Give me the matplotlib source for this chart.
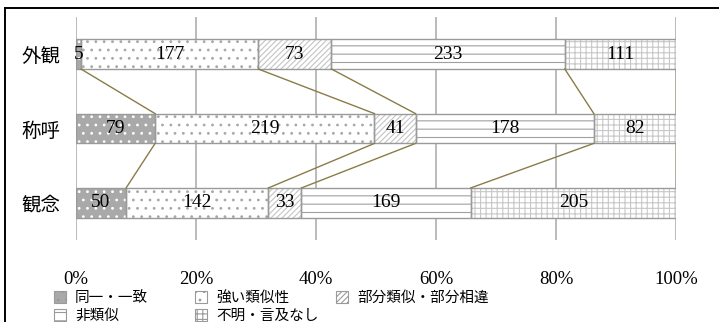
import numpy as np
import matplotlib
matplotlib.use("Agg")
import matplotlib.pyplot as plt
from matplotlib.patches import Patch
from matplotlib.lines import Line2D

# data
categories = ["外観", "称呼", "観念"]
series_names = ["同一・一致", "強い類似性", "部分類似・部分相違", "非類似", "不明・言及なし"]
same = [5, 79, 50]
strong = [177, 219, 142]
partial = [73, 41, 33]
dissimilar = [233, 178, 169]
unknown = [111, 82, 205]
tick_labels = ["0%", "20%", "40%", "60%", "80%", "100%"]

# styles: face, hatch colour, hatch
styles = [
    ("#a9a9a9", "#ffffff", ".."),
    ("#ffffff", "#a8a8a8", ".."),
    ("#ffffff", "#c4c4c4", "//////"),
    ("#ffffff", "#a0a0a0", "--"),
    ("#ffffff", "#c8c8c8", "+++"),
]

plt.rcParams["hatch.linewidth"] = 0.8
jp = ["Noto Sans CJK JP", "DejaVu Sans"]
serif = "Liberation Serif"

values = np.array([same, strong, partial, dissimilar, unknown], dtype=float)
totals = values.sum(axis=0)
pct = values / totals * 100
cum = np.cumsum(pct, axis=0)
y = np.arange(len(categories))

fig = plt.figure(figsize=(7.19, 3.22), dpi=100)
ax = fig.add_axes([76 / 719, 1 - 240 / 322, 600 / 719, 223 / 322])

for x in range(0, 101, 20):
    ax.axvline(x, color="#b5b5b5", lw=1.3, zorder=0)

bh = 0.40
for i in range(len(series_names)):
    left = cum[i] - pct[i]
    face, hc, hatch = styles[i]
    ax.barh(y, pct[i], left=left, height=bh, color=face, edgecolor=hc,
            hatch=hatch, linewidth=0, zorder=2)
    ax.barh(y, pct[i], left=left, height=bh, fill=False,
            edgecolor="#9a9a9a", linewidth=1.0, zorder=3)
    for j in range(len(categories)):
        ax.text(left[j] + pct[i][j] / 2, y[j], f"{int(values[i][j])}",
                ha="center", va="center", fontsize=14, family=serif, zorder=5)

# series lines
for i in range(len(series_names)):
    for j in range(len(categories) - 1):
        ax.plot([cum[i][j], cum[i][j + 1]], [y[j] + bh / 2, y[j + 1] - bh / 2],
                color="#8a7c48", lw=1.0, zorder=4)

ax.set_xlim(0, 100)
ax.set_ylim(2.5, -0.5)
ax.set_xticks(range(0, 101, 20))
ax.set_xticklabels(tick_labels, family=serif, fontsize=13.5)
ax.set_yticks(y)
ax.set_yticklabels(categories, family=jp, fontsize=14)
ax.tick_params(length=0)
ax.tick_params(axis="y", pad=11)
ax.tick_params(axis="x", pad=22)
for s in ax.spines.values():
    s.set_visible(False)

handles = []
for i, name in enumerate(series_names):
    face, hc, hatch = styles[i]
    handles.append(Patch(facecolor=face, edgecolor="#9a9a9a", hatch=hatch,
                         linewidth=0.8, label=name))

# legend laid out as three fixed-width columns
columns = [([0, 3], 54), ([1, 4], 195), ([2], 336)]
for idx, xpx in columns:
    lg = fig.legend([handles[k] for k in idx], [series_names[k] for k in idx],
                    loc="upper left", bbox_to_anchor=(xpx / 719, 1 - 291 / 322),
                    frameon=False, prop={"family": jp, "size": 10.5},
                    handlelength=0.85, handleheight=0.9, handletextpad=0.6,
                    labelspacing=0.25, borderaxespad=0, borderpad=0)

# outer frame (left and top only visible)
fig.add_artist(Line2D([5 / 719, 5 / 719], [0, 1 - 8 / 322], color="black", lw=1.4))
fig.add_artist(Line2D([5 / 719, 1], [1 - 8 / 322, 1 - 8 / 322], color="black", lw=1.4))

fig.savefig("out.png", dpi=100)
